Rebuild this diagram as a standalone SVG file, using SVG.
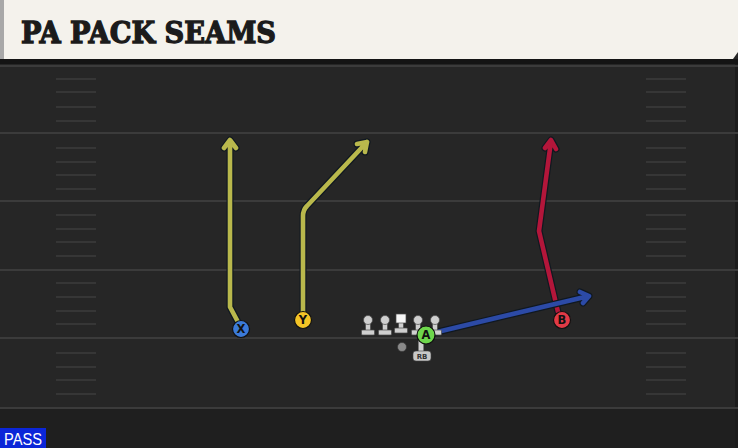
<svg xmlns="http://www.w3.org/2000/svg" width="738" height="448" viewBox="0 0 738 448">
<defs>
<style>
.yl{stroke:#3b3b3b;stroke-width:2}
.hm{stroke:#363636;stroke-width:2}
.out{fill:none;stroke:#101820;stroke-width:7;stroke-linecap:round;stroke-linejoin:round}
.rt{fill:none;stroke-width:4.6;stroke-linecap:round;stroke-linejoin:round}
.olive{stroke:#b9b84c}
.crim{stroke:#b3163a}
.blu{stroke:#2c4aa6}
.lbl{font-family:"DejaVu Sans","Liberation Sans",sans-serif;font-weight:bold;font-size:11.5px;text-anchor:middle;fill:#111}
.ol{fill:#cfcfcf;stroke:#4a4a4a;stroke-width:0.7}
</style>
<g id="hashcol">
<line class="hm" x1="0" y1="79" x2="40" y2="79"/><line class="hm" x1="0" y1="92" x2="40" y2="92"/><line class="hm" x1="0" y1="107" x2="40" y2="107"/><line class="hm" x1="0" y1="121" x2="40" y2="121"/>
<line class="hm" x1="0" y1="148" x2="40" y2="148"/><line class="hm" x1="0" y1="162" x2="40" y2="162"/><line class="hm" x1="0" y1="175" x2="40" y2="175"/><line class="hm" x1="0" y1="189" x2="40" y2="189"/>
<line class="hm" x1="0" y1="215" x2="40" y2="215"/><line class="hm" x1="0" y1="229" x2="40" y2="229"/><line class="hm" x1="0" y1="242" x2="40" y2="242"/><line class="hm" x1="0" y1="256" x2="40" y2="256"/>
<line class="hm" x1="0" y1="283" x2="40" y2="283"/><line class="hm" x1="0" y1="297" x2="40" y2="297"/><line class="hm" x1="0" y1="311" x2="40" y2="311"/><line class="hm" x1="0" y1="324" x2="40" y2="324"/>
<line class="hm" x1="0" y1="353" x2="40" y2="353"/><line class="hm" x1="0" y1="367" x2="40" y2="367"/><line class="hm" x1="0" y1="380" x2="40" y2="380"/><line class="hm" x1="0" y1="394" x2="40" y2="394"/>
</g>
<g id="lineman">
<rect x="-2.5" y="2" width="5" height="10" class="ol"/>
<circle cx="0" cy="0" r="4.5" class="ol"/>
<rect x="-6.5" y="10" width="13" height="5" rx="1" class="ol"/>
</g>
</defs>
<!-- field -->
<rect x="0" y="0" width="738" height="448" fill="#262626"/>
<rect x="0" y="409" width="738" height="39" fill="#1f1f1f"/>
<rect x="735" y="60" width="3" height="388" fill="#1c1c1c"/>
<g id="yardlines">
<line class="yl" x1="0" y1="66" x2="738" y2="66"/>
<line class="yl" x1="0" y1="133" x2="738" y2="133"/>
<line class="yl" x1="0" y1="201" x2="738" y2="201"/>
<line class="yl" x1="0" y1="270" x2="738" y2="270"/>
<line class="yl" x1="0" y1="338" x2="738" y2="338"/>
<line class="yl" x1="0" y1="408" x2="738" y2="408"/>
</g>
<use href="#hashcol" x="56"/>
<use href="#hashcol" x="646"/>
<!-- header -->
<rect x="0" y="59" width="738" height="5" fill="#141414"/>
<polygon points="0,0 738,0 738,52 733,59 0,59" fill="#f4f2ec"/>
<rect x="0" y="0" width="4" height="59" fill="#a8a8a8"/>
<text x="21" y="43" font-family="'DejaVu Serif','Liberation Serif',serif" font-weight="bold" font-size="29" textLength="255" lengthAdjust="spacingAndGlyphs" fill="#1b1b1b" stroke="#1b1b1b" stroke-width="1.3">PA PACK SEAMS</text>
<!-- connectors -->
<g id="routes">
<g>
<path class="out" d="M238,322 L230,307 L230,141 M224,148 L230,140 L236,148"/>
<path class="rt olive" d="M238,322 L230,307 L230,141 M224,148 L230,140 L236,148"/>
</g>
<g>
<path class="out" d="M303,312 L303,216 Q303,210 307,206 L367,142 M357,144 L367,142 L365,152"/>
<path class="rt olive" d="M303,312 L303,216 Q303,210 307,206 L367,142 M357,144 L367,142 L365,152"/>
</g>
<g>
<path class="out" d="M558,312 L539,231 L551,141 M545,148 L551,140 L556,149"/>
<path class="rt crim" d="M558,312 L539,231 L551,141 M545,148 L551,140 L556,149"/>
</g>
<g>
<path class="out" d="M433,333 L589,296 M580,292 L589,296 L583,303"/>
<path class="rt blu" d="M433,333 L589,296 M580,292 L589,296 L583,303"/>
</g>
</g>
<!-- line -->
<g id="oline">
<use href="#lineman" x="368" y="320"/>
<use href="#lineman" x="385" y="320"/>
<g id="center">
<rect x="398.5" y="320" width="5" height="10" class="ol"/>
<rect x="396" y="314" width="10" height="9" fill="#f6f6f6" stroke="#4a4a4a" stroke-width="0.7"/>
<rect x="394.5" y="328" width="13" height="5" rx="1" class="ol"/>
</g>
<use href="#lineman" x="418" y="320"/>
<use href="#lineman" x="435" y="320"/>
</g>
<g id="qb"><circle cx="402" cy="347" r="4.5" fill="#8a8a8a" stroke="#333" stroke-width="0.6"/></g>
<g id="rb">
<rect x="418.5" y="340" width="5" height="13" fill="#cfcfcf"/>
<rect x="413" y="351" width="18" height="10" rx="3" fill="#c8c8c8" stroke="#444" stroke-width="0.6"/>
<text x="422" y="359" font-family="'DejaVu Sans',sans-serif" font-size="7" font-weight="bold" text-anchor="middle" fill="#333">RB</text>
</g>
<!-- players -->
<g id="X"><circle cx="241" cy="329" r="8.5" fill="#3b7ad8" stroke="#111" stroke-width="1.2"/><text class="lbl" x="241" y="333">X</text></g>
<g id="Y"><circle cx="303" cy="320" r="8.5" fill="#f3c426" stroke="#111" stroke-width="1.2"/><text class="lbl" x="303" y="324">Y</text></g>
<g id="B"><circle cx="562" cy="320" r="8.5" fill="#e23a46" stroke="#111" stroke-width="1.2"/><text class="lbl" x="562" y="324">B</text></g>
<g id="A"><circle cx="426" cy="335" r="9" fill="#6ed64c" stroke="#111" stroke-width="1.2"/><text class="lbl" x="426" y="339">A</text></g>
<!-- pass tag -->
<g id="pass">
<rect x="0" y="428" width="46" height="20" fill="#0b26d8"/>
<text x="23" y="444.5" font-family="'Liberation Sans',Arial,sans-serif" font-size="16" textLength="38" lengthAdjust="spacingAndGlyphs" text-anchor="middle" fill="#ffffff">PASS</text>
</g>
</svg>
